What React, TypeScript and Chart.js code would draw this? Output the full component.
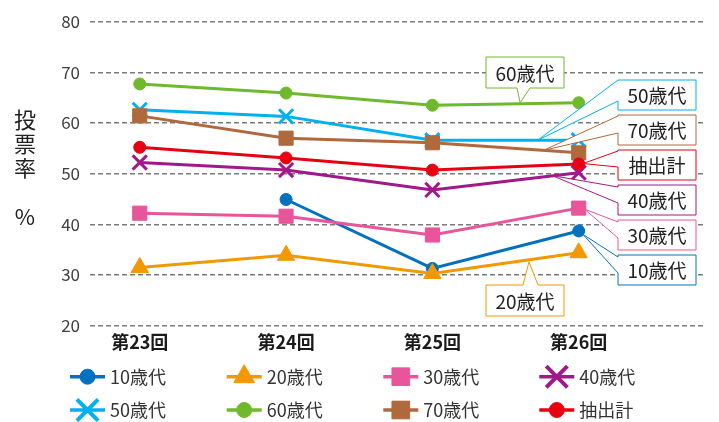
import React, { useEffect, useRef } from "react";
import { Chart, registerables } from "chart.js";
import { drawPoint } from "chart.js/helpers";

Chart.register(...registerables);

// ---- data ----
const categories = ["第23回", "第24回", "第25回", "第26回"];
const yTickValues = [20, 30, 40, 50, 60, 70, 80];
const seriesNames = ["10歳代", "20歳代", "30歳代", "40歳代", "50歳代", "60歳代", "70歳代", "抽出計"];
const age10: (number | null)[] = [null, 44.9, 31.3, 38.7];
const age20 = [31.5, 33.9, 30.3, 34.4];
const age30 = [42.2, 41.6, 37.9, 43.2];
const age40 = [52.2, 50.7, 46.8, 50.2];
const age50 = [62.6, 61.3, 56.6, 56.6];
const age60 = [67.7, 65.9, 63.5, 64.0];
const age70 = [61.4, 57.0, 56.1, 54.1];
const total = [55.2, 53.1, 50.7, 51.9];

// ---- styles ----
const COLORS = ["#0070C0", "#F39800", "#E9559B", "#A0188A", "#00B0F0", "#6FBA2C", "#B0693C", "#E60012"];
const STYLES = ["circle", "triangle", "rect", "crossRot", "crossRot", "circle", "rect", "circle"];
const RADII = [6, 10, 10, 10, 10, 6, 10, 6];
const LEGEND_RADII = [7.5, 12, 12.5, 15, 15, 7.5, 12.5, 7.5];
const FONT = '"Noto Sans CJK JP", "Noto Sans", sans-serif';

// callouts: tip in data units, box in pixels
const callouts = [
  { s: 5, tip: [2.6, 64.0], box: [486, 57, 78, 31], side: "bottom", base: [31, 44] },
  { s: 1, tip: [2.66, 32.6], box: [486, 285, 78, 31], side: "top", base: [37, 52] },
  { s: 4, tip: [2.72, 56.6], box: [618, 80, 78, 30], side: "left", base: [0, 21] },
  { s: 6, tip: [2.76, 54.6], box: [618, 115, 78, 30], side: "left", base: [1, 18] },
  { s: 7, tip: [3.03, 52.0], box: [618, 150, 78, 30], side: "left", base: [1, 17] },
  { s: 3, tip: [2.82, 49.6], box: [618, 185, 78, 30], side: "left", base: [2, 18] },
  { s: 2, tip: [3.04, 43.0], box: [618, 220, 78, 30], side: "left", base: [2, 18] },
  { s: 0, tip: [3.03, 38.0], box: [618, 255, 78, 30], side: "left", base: [2, 18] },
];

const legendCols = [70, 226.7, 383.3, 539.3];
const legendRows = [376.7, 410];

export default function App() {
  const ref = useRef<HTMLCanvasElement>(null);
  useEffect(() => {
    const canvas = ref.current!;
    const seriesData = [age10, age20, age30, age40, age50, age60, age70, total];
    const datasets = seriesNames.map((name, i) => ({
      label: name,
      data: seriesData[i].map((v, j) => ({ x: j, y: v })),
      borderColor: COLORS[i],
      backgroundColor: COLORS[i],
      borderWidth: 3,
      pointStyle: STYLES[i],
      pointRadius: RADII[i],
      pointHoverRadius: RADII[i],
      pointBorderWidth: STYLES[i] === "crossRot" ? 3 : 1,
      pointBackgroundColor: COLORS[i],
      pointBorderColor: COLORS[i],
      order: 7 - i,
      tension: 0,
      clip: false as any,
    }));

    const yTitlePlugin = {
      id: "yTitle",
      afterDraw(chart: any) {
        const ctx = chart.ctx;
        ctx.save();
        ctx.fillStyle = "#222";
        ctx.font = `22px ${FONT}`;
        ctx.textAlign = "center";
        ctx.textBaseline = "middle";
        const chars = ["投", "票", "率"];
        chars.forEach((c, k) => ctx.fillText(c, 25, 120 + k * 24));
        ctx.fillText("%", 25, 217);
        ctx.restore();
      },
    };

    const calloutPlugin = {
      id: "callouts",
      afterDraw(chart: any) {
        const ctx = chart.ctx;
        const xs = chart.scales.x;
        const ys = chart.scales.y;
        ctx.save();
        callouts.forEach((c) => {
          const color = COLORS[c.s];
          const tx = xs.getPixelForValue(c.tip[0]);
          const ty = ys.getPixelForValue(c.tip[1]);
          const [bx, by, bw, bh] = c.box;
          ctx.beginPath();
          if (c.side === "left") {
            ctx.moveTo(bx, by + c.base[0]);
            ctx.lineTo(tx, ty);
            ctx.lineTo(bx, by + c.base[1]);
            ctx.lineTo(bx, by + bh);
            ctx.lineTo(bx + bw, by + bh);
            ctx.lineTo(bx + bw, by);
            ctx.lineTo(bx, by);
          } else if (c.side === "bottom") {
            ctx.moveTo(bx + c.base[0], by + bh);
            ctx.lineTo(tx, ty);
            ctx.lineTo(bx + c.base[1], by + bh);
            ctx.lineTo(bx + bw, by + bh);
            ctx.lineTo(bx + bw, by);
            ctx.lineTo(bx, by);
            ctx.lineTo(bx, by + bh);
          } else {
            ctx.moveTo(bx + c.base[0], by);
            ctx.lineTo(tx, ty);
            ctx.lineTo(bx + c.base[1], by);
            ctx.lineTo(bx + bw, by);
            ctx.lineTo(bx + bw, by + bh);
            ctx.lineTo(bx, by + bh);
            ctx.lineTo(bx, by);
          }
          ctx.closePath();
          ctx.fillStyle = "#fff";
          ctx.fill();
          ctx.strokeStyle = color;
          ctx.lineWidth = 1;
          ctx.stroke();
          ctx.fillStyle = "#222";
          ctx.font = `19px ${FONT}`;
          ctx.textAlign = "center";
          ctx.textBaseline = "middle";
          ctx.fillText(seriesNames[c.s], bx + bw / 2, by + bh / 2 + 1);
        });
        ctx.restore();
      },
    };

    const legendPlugin = {
      id: "customLegend",
      afterDraw(chart: any) {
        const ctx = chart.ctx;
        ctx.save();
        seriesNames.forEach((name, i) => {
          const x = legendCols[i % 4];
          const y = legendRows[Math.floor(i / 4)];
          ctx.strokeStyle = COLORS[i];
          ctx.fillStyle = COLORS[i];
          ctx.lineWidth = 3.5;
          ctx.beginPath();
          ctx.moveTo(x, y);
          ctx.lineTo(x + 35, y);
          ctx.stroke();
          ctx.lineWidth = STYLES[i] === "crossRot" ? 4 : 1;
          drawPoint(ctx, { pointStyle: STYLES[i] as any, radius: LEGEND_RADII[i], rotation: 0, borderWidth: ctx.lineWidth }, x + 17.5, y);
          ctx.fillStyle = "#333";
          ctx.font = `18px ${FONT}`;
          ctx.textAlign = "left";
          ctx.textBaseline = "middle";
          ctx.fillText(name, x + 40, y);
        });
        ctx.restore();
      },
    };

    const chart = new Chart(canvas, {
      type: "line",
      data: { datasets: datasets as any },
      options: {
        animation: false,
        responsive: false,
        layout: { padding: { top: 21.6, right: 9, bottom: 0, left: 0 } },
        plugins: { legend: { display: false }, tooltip: { enabled: false } },
        scales: {
          x: {
            type: "linear",
            min: -0.34,
            max: 3.87,
            afterBuildTicks: (scale: any) => {
              scale.ticks = categories.map((_, i) => ({ value: i }));
            },
            afterFit: (scale: any) => {
              scale.height = 422 - 325.7;
            },
            ticks: {
              autoSkip: false,
              maxRotation: 0,
              padding: 6,
              color: "#1a1a1a",
              font: { family: FONT, size: 18, weight: "bold" },
              callback: (v: any) => categories[Math.round(v)] ?? "",
            },
            grid: { display: false, drawTicks: false },
            border: { display: false },
          },
          y: {
            type: "linear",
            min: 20,
            max: 80,
            afterBuildTicks: (scale: any) => {
              scale.ticks = yTickValues.map((v) => ({ value: v }));
            },
            afterFit: (scale: any) => {
              scale.width = 90;
            },
            ticks: {
              padding: 10,
              color: "#404040",
              font: { family: FONT, size: 17 },
            },
            grid: { color: "#7a7a7a", lineWidth: 1.5, drawTicks: false },
            border: { display: false, dash: [5, 3] },
          },
        },
      },
      plugins: [yTitlePlugin, calloutPlugin, legendPlugin],
    });
    return () => chart.destroy();
  }, []);

  return (
    <div style={{ position: "fixed", left: 0, top: 0, width: 719, height: 422, background: "#fff" }}>
      <canvas ref={ref} width={719} height={422} style={{ display: "block" }} />
    </div>
  );
}
